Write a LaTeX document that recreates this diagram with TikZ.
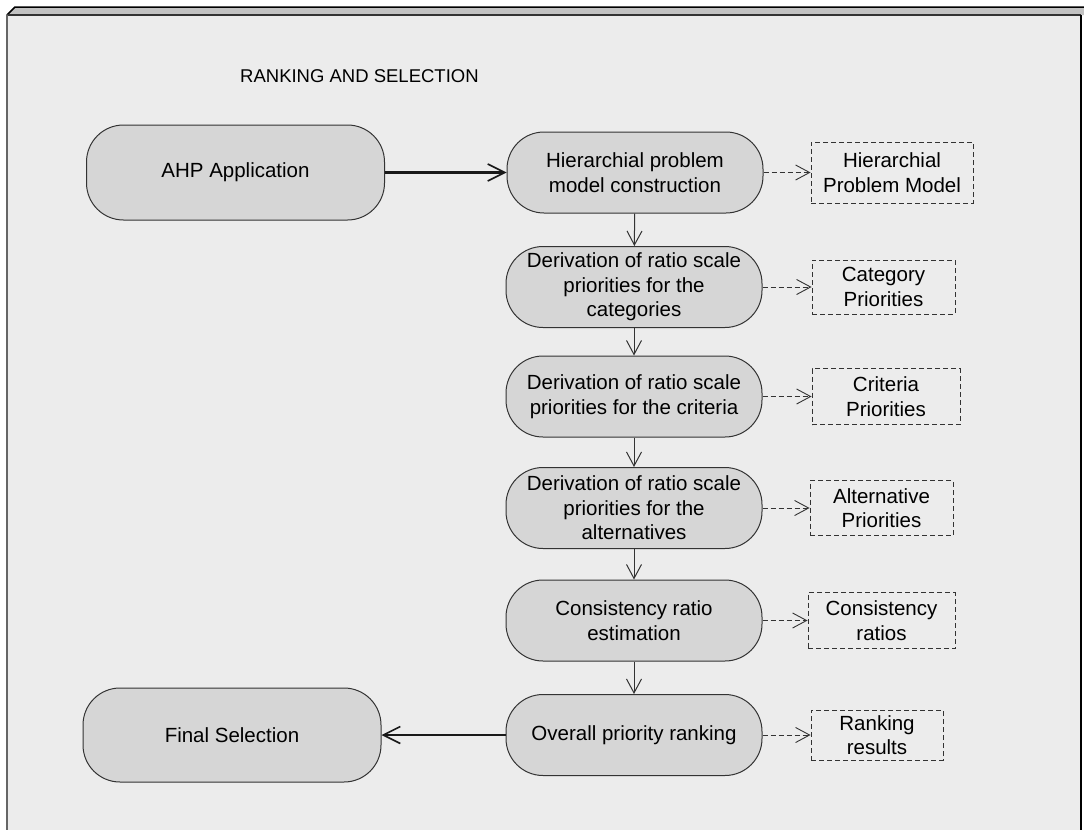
\documentclass[tikz,border=0pt]{standalone}
\usepackage{fontspec}
\setmainfont{Liberation Sans}
\usetikzlibrary{arrows.meta}
\definecolor{panel}{HTML}{ECECEC}
\definecolor{bevel}{HTML}{C2C2C2}
\definecolor{boxfill}{HTML}{D6D6D6}
\definecolor{edge}{HTML}{333333}
\begin{document}
\begin{tikzpicture}[x=1pt,y=-1pt,
  every node/.style={font=\fontsize{20.5}{24.5}\selectfont, text=black},
  process/.style={draw=edge, line width=1pt, fill=boxfill, rounded corners=37pt,
    minimum width=256pt, minimum height=81pt, align=center, inner sep=0pt},
  endpoint/.style={process, rounded corners=37pt, minimum width=298pt, minimum height=95pt},
  output/.style={draw=edge, line width=0.9pt, dash pattern=on 5pt off 3pt,
    align=center, inner sep=0pt},
  flow/.style={draw=edge, line width=1pt, -{Straight Barb[length=14pt,width=15pt]}},
  mainflow/.style={draw=black!90, line width=2.2pt,
    -{Straight Barb[length=17pt,width=17pt,line width=1.6pt]}},
  yields/.style={draw=edge, line width=0.9pt, dash pattern=on 5pt off 3pt,
    -{Straight Barb[length=14pt,width=15pt]}}
]
\useasboundingbox (0,0) rectangle (1084,830);

% panel with bevelled top edge
\fill[panel] (7,15) rectangle (1081,830);
\fill[bevel] (7,15) -- (15,7) -- (1084,7) -- (1084,15) -- cycle;
\draw[black, line width=1.5pt] (7,15) -- (15,7) -- (1084,7);
\draw[edge, line width=1.2pt] (7,15) -- (1081,15);
\draw[black!60, line width=1.6pt] (7,15) -- (7,830);
\draw[black, line width=2pt] (1081,15) -- (1081,830);

\node[anchor=base west, inner sep=0pt, font=\fontsize{18.5}{22}\selectfont] (title) at (240,82)
  {RANKING AND SELECTION};

% main process chain
\node[endpoint] (ahp) at (235.5,172.5) {AHP Application};
\node[process] (hier) at (635,172.5) {Hierarchial problem\\model construction};
\node[process] (cat)  at (634,287) {Derivation of ratio scale\\priorities for the\\categories};
\node[process] (crit) at (634,396.5) {Derivation of ratio scale\\priorities for the criteria};
\node[process] (alt)  at (634,508) {Derivation of ratio scale\\priorities for the\\alternatives};
\node[process] (cons) at (634,620.5) {Consistency ratio\\estimation};
\node[process] (over) at (634,735) {Overall priority ranking};
\node[endpoint, minimum height=94pt] (fin) at (232,735) {Final Selection};

% outputs of each step
\node[output, minimum width=162pt, minimum height=61pt] (hpm)   at (892,172.5) {Hierarchial\\Problem Model};
\node[output, minimum width=143pt, minimum height=54pt] (catp)  at (883.5,287) {Category\\Priorities};
\node[output, minimum width=148pt, minimum height=56pt] (critp) at (886,396.5) {Criteria\\Priorities};
\node[output, minimum width=143pt, minimum height=55pt] (altp)  at (881.5,508) {Alternative\\Priorities};
\node[output, minimum width=147pt, minimum height=56pt] (consp) at (881.5,620.5) {Consistency\\ratios};
\node[output, minimum width=132pt, minimum height=50pt] (rankp) at (877,735) {Ranking\\results};

% connectors
\draw[mainflow] (ahp) -- (hier);
\draw[mainflow] (over) -- (fin);
\draw[flow] (hier) -- (cat);
\draw[flow] (cat) -- (crit);
\draw[flow] (crit) -- (alt);
\draw[flow] (alt) -- (cons);
\draw[flow] (cons) -- (over);
\draw[yields] (hier) -- (hpm);
\draw[yields] (cat) -- (catp);
\draw[yields] (crit) -- (critp);
\draw[yields] (alt) -- (altp);
\draw[yields] (cons) -- (consp);
\draw[yields] (over) -- (rankp);
\end{tikzpicture}
\end{document}
